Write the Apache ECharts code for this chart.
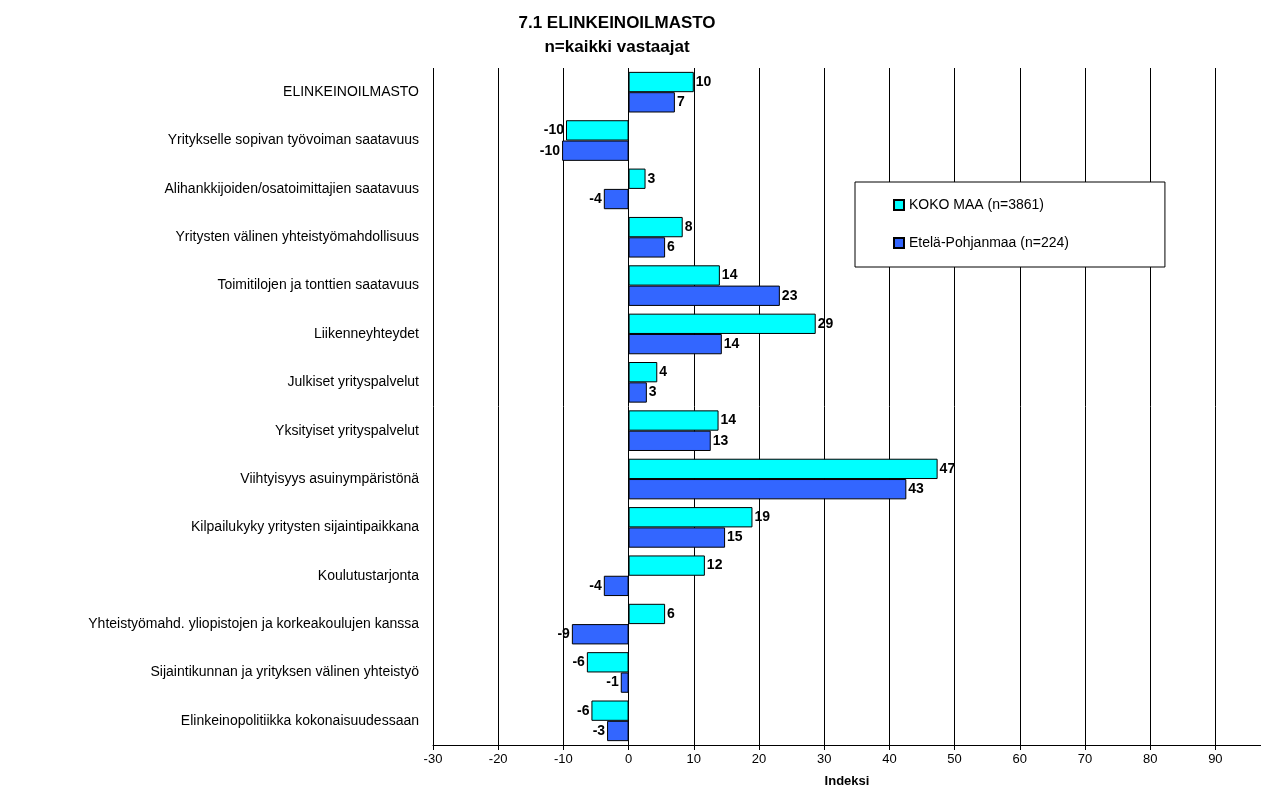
<!DOCTYPE html><html><head><meta charset="utf-8"><script src="https://cdn.jsdelivr.net/npm/echarts@6/dist/echarts.min.js"></script></head><body style="margin:0"><div id="c" style="width:1261px;height:802px"></div><script>
const categories=["ELINKEINOILMASTO","Yritykselle sopivan työvoiman saatavuus","Alihankkijoiden/osatoimittajien saatavuus","Yritysten välinen yhteistyömahdollisuus","Toimitilojen ja tonttien saatavuus","Liikenneyhteydet","Julkiset yrityspalvelut","Yksityiset yrityspalvelut","Viihtyisyys asuinympäristönä","Kilpailukyky yritysten sijaintipaikkana","Koulutustarjonta","Yhteistyömahd. yliopistojen ja korkeakoulujen kanssa","Sijaintikunnan ja yrityksen välinen yhteistyö","Elinkeinopolitiikka kokonaisuudessaan"];
const kokoMaa=[10,-9.6,2.6,8.3,14,28.7,4.4,13.8,47.4,19,11.7,5.6,-6.4,-5.7];
const etela=[7.1,-10.2,-3.8,5.6,23.2,14.3,2.8,12.6,42.6,14.8,-3.8,-8.7,-1.2,-3.3];
function mk(arr){return arr.map(v=>({value:v,label:{position:v<0?'left':'right'}}));}
const lab={show:true,fontWeight:'bold',fontSize:14,color:'#000',fontFamily:'Arial',formatter:p=>Math.round(p.value),distance:2};
echarts.init(document.getElementById('c')).setOption({
title:{text:'7.1 ELINKEINOILMASTO\nn=kaikki vastaajat',left:612,textAlign:'center',top:6,textStyle:{fontSize:17,fontWeight:'bold',fontFamily:'Arial',lineHeight:24,color:'#000'}},
grid:{left:433,right:0,top:68,bottom:57},
legend:{orient:'vertical',left:855,top:182,itemGap:24,itemWidth:10,itemHeight:10,padding:[16,96,17,38],backgroundColor:'#fff',borderColor:'#000',borderWidth:1,textStyle:{fontSize:14,fontFamily:'Arial',color:'#000'},icon:'rect'},
xAxis:{type:'value',min:-30,max:97,interval:10,name:'Indeksi',nameLocation:'middle',nameGap:30,nameTextStyle:{fontWeight:'bold',fontSize:13,fontFamily:'Arial',color:'#000'},axisLabel:{fontSize:13,fontFamily:'Arial',color:'#000',showMaxLabel:false},splitLine:{lineStyle:{color:'#000'}},axisLine:{show:true,lineStyle:{color:'#000'}},axisTick:{show:true}},
yAxis:{type:'category',inverse:true,data:categories,axisLabel:{fontSize:14,fontFamily:'Arial',color:'#000',margin:14},axisLine:{show:false},axisTick:{show:false},splitLine:{show:false}},
series:[{name:'KOKO MAA (n=3861)',type:'bar',data:mk(kokoMaa),barGap:'0%',barCategoryGap:'16%',itemStyle:{color:'#00FFFF',borderColor:'#000',borderWidth:1},label:lab},
{name:'Etelä-Pohjanmaa (n=224)',type:'bar',data:mk(etela),itemStyle:{color:'#3366FF',borderColor:'#000',borderWidth:1},label:lab}]
});
</script></body></html>
